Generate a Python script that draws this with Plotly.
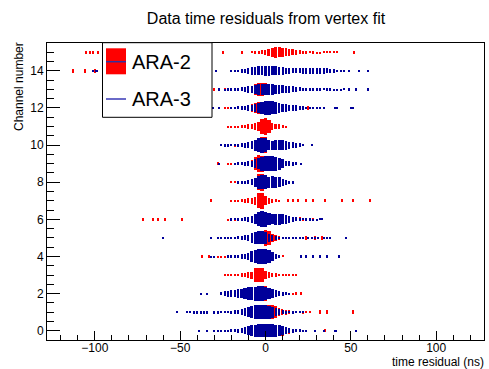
import numpy as np
import plotly.graph_objects as go

# ---------------- data (box sizes in % of one channel row, 2 ns bins) ----------------
BIN_W = 2.0
channels = list(range(16))

# ARA-2 (red): start time of first bin per channel, bin contents, isolated entries
ara2_t0 = [-20, -20, -20, -24, -30, -24, -22, -20, -20, -22, -22, -22, -24, -24, -14, -8]
ara2_core = [
    [6, 8, 10, 12, 15, 20, 28, 35, 45, 55, 62, 66, 68, 66, 60, 52, 40, 30, 20, 14, 10, 8],
    [6, 8, 10, 12, 15, 20, 28, 38, 50, 60, 68, 72, 74, 66, 42, 32, 26, 20, 16, 13, 11, 10, 9, 8],
    [6, 8, 10, 14, 20, 28, 40, 55, 70, 82, 80, 55, 35, 25, 18, 14, 10, 8, 7],
    [8, 8, 10, 12, 14, 18, 22, 28, 38, 75, 78, 75, 45, 30, 25, 20, 15, 12, 10, 8, 8, 6],
    [6, 8, 8, 10, 10, 12, 12, 14, 16, 20, 28, 45, 75, 84, 70, 50, 32, 22, 16, 13, 11],
    [8, 8, 10, 10, 12, 14, 18, 24, 32, 42, 55, 70, 86, 78, 45, 30, 20, 14, 10],
    [8, 8, 8, 10, 14, 18, 22, 30, 40, 55, 58, 50, 40, 30, 25, 22, 20, 18, 16, 18, 22, 20, 18, 16, 14, 10, 8],
    [8, 10, 12, 16, 20, 26, 32, 45, 82, 85, 50, 30, 22, 15, 10],
    [6, 8, 10, 14, 18, 24, 30, 45, 85, 90, 70, 40, 20, 10],
    [6, 8, 10, 12, 16, 20, 28, 40, 70, 92, 85, 60, 40, 25, 15, 10],
    [8, 8, 10, 12, 14, 18, 22, 28, 35, 50, 90, 88, 50, 20, 12, 8],
    [6, 6, 8, 10, 14, 18, 22, 28, 35, 45, 80, 88, 70, 40, 30, 22, 16, 10],
    [6, 8, 10, 12, 16, 20, 26, 34, 44, 55, 62, 65, 60, 50, 40, 32, 26, 22, 18, 16, 14, 12, 10, 8],
    [10, 14, 16, 18, 20, 22, 25, 30, 40, 55, 70, 72, 65, 50, 40, 30, 22, 15, 10],
    [8, 10, 14, 20, 26, 30, 32, 30, 26, 20, 14, 10, 8],
    [12, 15, 18, 22, 30, 38, 50, 58, 55, 50, 45, 40, 32, 28, 22, 18, 14, 12, 10, 8, 8, 7, 6, 6, 5, 5],
]
ara2_isolated = [
    [35],
    [32, 36, 51],
    [18, 21],
    [],
    [-37, -33],
    [24, 29, 33],
    [-72, -66, -63, -59, -49],
    [-32, 13, 16, 19, 24, 28, 35, 45, 51, 61],
    [],
    [-28],
    [],
    [],
    [25],
    [-27, -30],
    [-113, -106, -100],
    [-105, -103, -101, -98, -25, -14, 52],
]

# ARA-3 (blue): no entries on channels 3, 7, 11, 15
ara3_t0 = [-30, -46, -38, None, -32, -28, -20, None, -16, -18, -26, None, -20, -24, -20, None]
ara3_core = [
    [8, 8, 10, 10, 12, 14, 16, 20, 25, 35, 50, 60, 65, 68, 70, 70, 70, 68, 65, 60, 50, 40, 28, 22, 18, 14, 10, 8],
    [8, 8, 10, 10, 10, 10, 10, 0, 10, 10, 12, 12, 14, 16, 20, 25, 35, 45, 55, 65, 72, 76, 78, 76, 70, 60, 45, 30, 22, 16, 12, 10, 8, 8, 6],
    [8, 0, 8, 0, 0, 0, 20, 26, 32, 38, 42, 46, 52, 60, 66, 70, 75, 78, 78, 72, 62, 50, 40, 30, 22, 15, 10],
    None,
    [8, 10, 0, 0, 0, 14, 16, 18, 20, 24, 30, 40, 55, 68, 76, 78, 76, 68, 50, 25, 12],
    [8, 8, 10, 10, 12, 14, 16, 20, 26, 36, 50, 62, 70, 70, 62, 40, 30, 22, 15, 10, 8, 7, 6, 6, 6],
    [10, 12, 15, 18, 22, 28, 38, 55, 75, 85, 82, 65, 55, 58, 60, 55, 45, 35, 25, 20, 15, 12, 10, 10, 8, 8, 6],
    None,
    [10, 14, 18, 24, 32, 50, 70, 78, 75, 60, 62, 60, 52, 38, 25, 15, 10],
    [10, 14, 18, 22, 26, 32, 45, 60, 75, 80, 80, 78, 75, 65, 50, 30, 25, 20, 15],
    [8, 10, 10, 12, 14, 16, 22, 28, 35, 45, 60, 75, 80, 75, 55, 48, 52, 55, 55, 48, 38, 32, 28, 22, 15],
    None,
    [12, 14, 16, 18, 22, 28, 35, 45, 55, 65, 72, 75, 70, 60, 50, 45, 40, 36, 32, 28, 22, 18, 15, 12, 10, 10, 8, 7],
    [8, 10, 12, 14, 18, 22, 28, 35, 42, 48, 55, 58, 60, 58, 55, 52, 48, 44, 40, 36, 32, 28, 22, 18, 15, 14, 13, 12, 12, 11, 10, 10, 9, 8, 8, 6],
    [10, 12, 14, 18, 25, 32, 40, 45, 48, 50, 52, 52, 50, 48, 45, 40, 35, 30, 28, 26, 28, 30, 32, 34, 35, 34, 32, 30, 26, 22, 18, 14, 10, 8],
    None,
]
ara3_isolated = [
    [-39, -34, 29, 34, 41, 53],
    [-52],
    [],
    [],
    [21, 24, 28, 32, 36, 43],
    [-60, -32, 22, 25, 27, 29, 31, 34, 36, 38, 47],
    [33],
    [],
    [],
    [-27, 21],
    [27],
    [],
    [-31, -27, 41, 42, 50, 51],
    [-27, 49, 53, 60],
    [-101, -99, -29, 49, 55, 60],
    [],
]

RED = "#ff0000"
BLUE = "#00009a"
FONT = "Liberation Sans, Arial, Helvetica, sans-serif"


def boxes(t0s, cores, isolated, iso_size, wmin):
    xs, bases, hs, ws = [], [], [], []
    for ch in channels:
        core = cores[ch]
        if core is not None:
            for i, v in enumerate(core):
                if v <= 0:
                    continue
                h = v / 100.0
                xs.append(t0s[ch] + i * BIN_W)
                hs.append(h)
                bases.append(ch - h / 2)
                ws.append(BIN_W * min(0.95, max(wmin, v / 65.0)))
        for t in isolated[ch]:
            h = iso_size / 100.0
            xs.append(t)
            hs.append(h)
            bases.append(ch - h / 2)
            ws.append(BIN_W * wmin)
    return xs, bases, hs, ws


fig = go.Figure()
for (t0s, cores, iso, col, isz, wmin, name) in [
    (ara2_t0, ara2_core, ara2_isolated, RED, 18, 0.3, "ARA-2"),
    (ara3_t0, ara3_core, ara3_isolated, BLUE, 12, 0.6, "ARA-3"),
]:
    xs, bases, hs, ws = boxes(t0s, cores, iso, isz, wmin)
    fig.add_trace(go.Bar(x=xs, y=hs, base=bases, width=ws, name=name,
                         marker=dict(color=col, line=dict(width=0)),
                         showlegend=False, hoverinfo="skip"))

# ---------------- layout ----------------
W, H = 489, 369
ML, MR, MT, MB = 47, 5, 43, 29
PW, PH = W - ML - MR, H - MT - MB


def px(x):
    return (x - ML) / PW


def py(y):
    return (H - MB - y) / PH


fig.update_layout(
    width=W, height=H, barmode="overlay", bargap=0,
    margin=dict(l=ML, r=MR, t=MT, b=MB, pad=0),
    paper_bgcolor="white", plot_bgcolor="white",
    font=dict(family=FONT, color="black", size=12),
    title=dict(text="Data time residuals from vertex fit", x=266 / W, xanchor="center",
               y=1 - 18 / H, yanchor="middle", font=dict(size=16, family=FONT, color="black")),
)
fig.update_xaxes(range=[-128, 128], tick0=0, dtick=50, ticks="inside", ticklen=9, tickwidth=1,
                 tickcolor="black", minor=dict(dtick=10, ticks="inside", ticklen=5, tickcolor="black"),
                 showline=True, linecolor="black", linewidth=1, mirror=True,
                 showgrid=False, zeroline=False, tickfont=dict(size=12, family=FONT),
                 ticklabelstandoff=-3)
fig.update_yaxes(range=[-0.5, 15.5], tick0=0, dtick=2, ticks="inside", ticklen=13, tickwidth=1,
                 tickcolor="black", minor=dict(dtick=0.5, ticks="inside", ticklen=7, tickcolor="black"),
                 showline=True, linecolor="black", linewidth=1, mirror=True,
                 showgrid=False, zeroline=False, tickfont=dict(size=12, family=FONT),
                 ticklabelstandoff=0)

# axis titles (ROOT style, aligned at the axis end)
fig.add_annotation(text="Channel number", xref="paper", yref="paper", x=px(19), y=py(87),
                   xanchor="center", yanchor="middle", textangle=-90, showarrow=False,
                   font=dict(size=12, family=FONT))
fig.add_annotation(text="time residual (ns)", xref="paper", yref="paper", x=px(486), y=py(361.5),
                   xanchor="right", yanchor="middle", showarrow=False, font=dict(size=12, family=FONT))

# legend box drawn ROOT style
fig.add_shape(type="rect", xref="paper", yref="paper", x0=px(102.5), x1=px(212), y0=py(117.3), y1=py(42.7),
              line=dict(color="black", width=1), fillcolor="white", layer="above")
fig.add_shape(type="rect", xref="paper", yref="paper", x0=px(106), x1=px(126), y0=py(74.3), y1=py(48.3),
              line=dict(width=0), fillcolor=RED, layer="above")
fig.add_shape(type="line", xref="paper", yref="paper", x0=px(106), x1=px(126), y0=py(61.7), y1=py(61.7),
              line=dict(color="#3030a0", width=1.5), layer="above")
fig.add_shape(type="line", xref="paper", yref="paper", x0=px(106), x1=px(126), y0=py(99), y1=py(99),
              line=dict(color="#6a6ac8", width=2), layer="above")
fig.add_annotation(text="ARA-2", xref="paper", yref="paper", x=px(129.5), y=py(62), xanchor="left",
                   yanchor="middle", showarrow=False, font=dict(size=20, family=FONT))
fig.add_annotation(text="ARA-3", xref="paper", yref="paper", x=px(129.5), y=py(99), xanchor="left",
                   yanchor="middle", showarrow=False, font=dict(size=20, family=FONT))

fig.write_html("out.html")
